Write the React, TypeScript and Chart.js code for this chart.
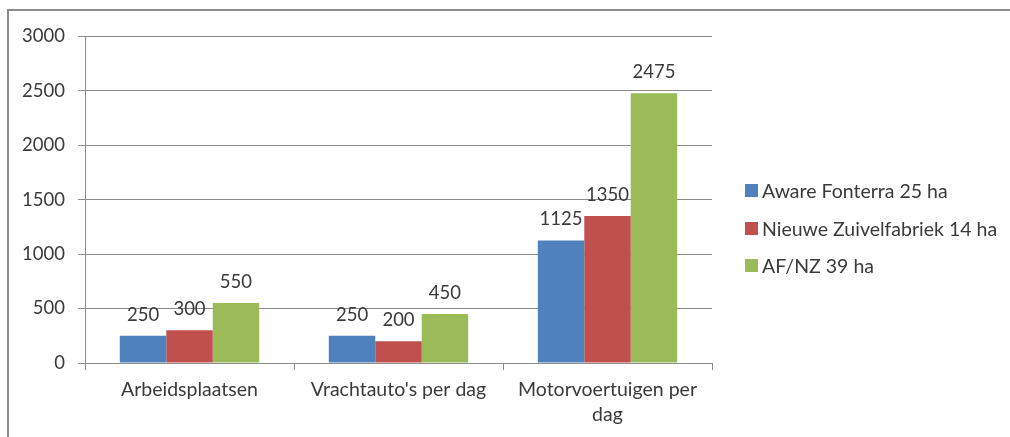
import React, { useEffect, useRef } from "react";
import { Chart, registerables } from "chart.js";

Chart.register(...registerables);

const categories: (string | string[])[] = [
  "Arbeidsplaatsen",
  "Vrachtauto's per dag",
  ["Motorvoertuigen per", "dag"],
];
const seriesNames = ["Aware Fonterra 25 ha", "Nieuwe Zuivelfabriek 14 ha", "AF/NZ 39 ha"];
const awareFonterra = [250, 250, 1125];
const nieuweZuivel = [300, 200, 1350];
const afnz = [550, 450, 2475];
const colors = ["#4F81BD", "#C0504D", "#9BBB59"];
const yMax = 3000;
const yStep = 500;

const FONT = "Lato, 'Open Sans', sans-serif";
const TEXT = "#3a3a3a";
const NUM_SIZE = 18.5;
const TXT_SIZE = 19.5;

const valueLabels = {
  id: "valueLabels",
  afterDatasetsDraw(chart: any) {
    const ctx = chart.ctx;
    ctx.save();
    ctx.font = `${NUM_SIZE}px ${FONT}`;
    ctx.fillStyle = TEXT;
    ctx.textAlign = "center";
    ctx.textBaseline = "alphabetic";
    chart.data.datasets.forEach((ds: any, i: number) => {
      const meta = chart.getDatasetMeta(i);
      meta.data.forEach((el: any, j: number) => {
        ctx.fillText(String(ds.data[j]), el.x, el.y - 15);
      });
    });
    ctx.restore();
  },
};

export default function App() {
  const ref = useRef<HTMLCanvasElement>(null);
  useEffect(() => {
    if (!ref.current) return;
    const chart = new Chart(ref.current, {
      type: "bar",
      data: {
        labels: categories as any,
        datasets: [awareFonterra, nieuweZuivel, afnz].map((d, i) => ({
          label: seriesNames[i],
          data: d,
          backgroundColor: colors[i],
          borderWidth: 0,
          categoryPercentage: 0.667,
          barPercentage: 1,
        })),
      },
      options: {
        animation: false,
        responsive: false,
        maintainAspectRatio: false,
        layout: { padding: { top: 22, right: 296, left: 0, bottom: 0 } },
        plugins: { legend: { display: false }, tooltip: { enabled: false } },
        scales: {
          x: {
            afterFit: (s: any) => {
              s.height = 74;
            },
            grid: {
              offset: true,
              drawOnChartArea: false,
              drawTicks: true,
              tickLength: 7,
              color: "#8c8c8c",
            },
            border: { display: true, color: "#8c8c8c" },
            ticks: {
              font: { family: FONT, size: TXT_SIZE, lineHeight: 1.3 },
              color: TEXT,
              padding: 7,
              maxRotation: 0,
            },
          },
          y: {
            min: 0,
            max: yMax,
            afterFit: (s: any) => {
              s.width = 75;
            },
            grid: { color: "#8c8c8c", tickLength: 7, drawTicks: true },
            border: { display: true, color: "#8c8c8c" },
            ticks: {
              stepSize: yStep,
              font: { family: FONT, size: NUM_SIZE },
              color: TEXT,
              padding: 13,
              callback: (v: any) => String(v),
            },
          },
        },
      },
      plugins: [valueLabels],
    });
    return () => chart.destroy();
  }, []);

  const legendTops = [190, 228, 265];
  return (
    <div style={{ position: "absolute", left: 0, top: 0, width: 1010, height: 437, background: "#fff", overflow: "hidden" }}>
      <div
        style={{
          position: "absolute",
          left: 7,
          top: 9,
          width: 1010,
          height: 437,
          borderTop: "2px solid #8c8c8c",
          borderLeft: "2px solid #8c8c8c",
        }}
      />
      <canvas ref={ref} width={998} height={425} style={{ position: "absolute", left: 10, top: 12, width: 998, height: 425 }} />
      {seriesNames.map((n, i) => (
        <div
          key={n}
          style={{
            position: "absolute",
            left: 745,
            top: legendTops[i] - 12,
            height: 24,
            display: "flex",
            alignItems: "center",
            fontFamily: FONT,
            fontSize: TXT_SIZE,
            color: TEXT,
            whiteSpace: "nowrap",
          }}
        >
          <span style={{ display: "inline-block", width: 13, height: 13, background: colors[i], marginRight: 4 }} />
          {n}
        </div>
      ))}
    </div>
  );
}
